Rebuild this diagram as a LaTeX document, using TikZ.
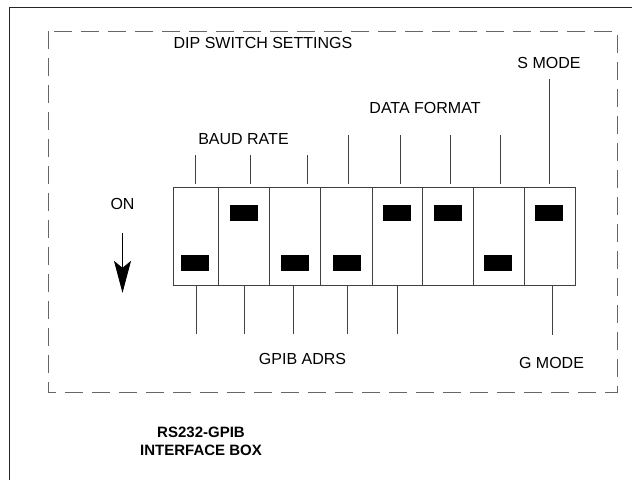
\documentclass[tikz,border=0pt]{standalone}
\usepackage{fontspec}
\setmainfont{Liberation Sans}
\usetikzlibrary{arrows.meta,positioning}

\begin{document}
\begin{tikzpicture}
	[x=1pt,y=-1pt,
	lbl/.style={font=\fontsize{16}{19}\selectfont,inner sep=0pt},
	cell/.style={draw=black!75,line width=0.8pt,minimum height=98pt,inner sep=0pt},
	knob/.style={fill=black,minimum width=28pt,minimum height=16pt,inner sep=0pt},
	lead/.style={draw=black!75,line width=0.8pt}]
	\useasboundingbox (0,0) rectangle (632,480);
	
	% outer frame and dashed panel
	\draw[black!85,line width=1pt] (9.5,480) -- (9.5,7) -- (632,7);
	\draw[black!60,line width=1pt,dash pattern=on 18pt off 9pt] (48,31) rectangle (617,392);
	
	% switch body
	\node[cell,minimum width=45pt] (c1) at (195.5,236) {};
	\node[cell,minimum width=51pt] (c2) at (243.5,236) {};
	\node[cell,minimum width=51pt] (c3) at (294.5,236) {};
	\node[cell,minimum width=52pt] (c4) at (346,236) {};
	\node[cell,minimum width=50pt] (c5) at (397,236) {};
	\node[cell,minimum width=51pt] (c6) at (447.5,236) {};
	\node[cell,minimum width=51pt] (c7) at (498.5,236) {};
	\node[cell,minimum width=51pt] (c8) at (549.5,236) {};
	
	% knobs, up = 213, down = 262.5
	\node[knob] (k1) at (195,262.5) {};
	\node[knob] (k2) at (244,213) {};
	\node[knob] (k3) at (295,262.5) {};
	\node[knob] (k4) at (347,262.5) {};
	\node[knob] (k5) at (397,213) {};
	\node[knob] (k6) at (448,213) {};
	\node[knob] (k7) at (498,262.5) {};
	\node[knob] (k8) at (549,213) {};
	
	% leads above
	\foreach \x/\y in {195/155,250/155,307/155,348/135,400/135,450/135,500/135,549/79}
	\draw[lead] (\x,\y) -- (\x,184);
	% leads below
	\foreach \x in {196,244,293,347,397}
	\draw[lead] (\x,285) -- (\x,334);
	\draw[lead] (552,285) -- (552,335);
	
	% labels
	\node[lbl] (dip) at (263,42.5) {DIP SWITCH SETTINGS};
	\node[lbl] (smode) at (549,62.5) {S MODE};
	\node[lbl] (fmt) at (425,108) {DATA FORMAT};
	\node[lbl] (baud) at (243.5,139.5) {BAUD RATE};
	\node[lbl] (adrs) at (302.5,359) {GPIB ADRS};
	\node[lbl] (gmode) at (551.5,362.5) {G MODE};
	\node[lbl] (on) at (122.5,204) {ON};
	\draw[black,line width=0.8pt,-{Stealth[length=32pt,width=17pt,inset=7pt]}]
	([yshift=-23pt]on.south) -- ([yshift=-83pt]on.south);
	
	\node[font=\fontsize{15}{18}\selectfont\bfseries,inner sep=0pt,align=center] (box) at (201,441.5) {RS232-GPIB\\INTERFACE BOX};
\end{tikzpicture}
\end{document}
